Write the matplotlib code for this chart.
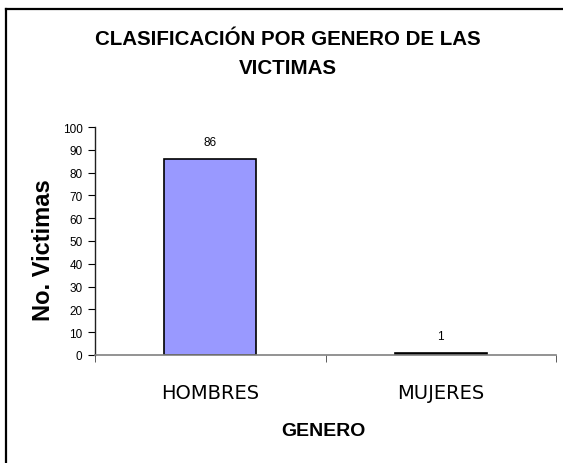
import matplotlib
matplotlib.use("Agg")
import matplotlib.pyplot as plt
from matplotlib.lines import Line2D

categories = ["HOMBRES", "MUJERES"]
values = [86, 1]
bar_colors = ["#9999FF", "#000000"]
yticks = [0, 10, 20, 30, 40, 50, 60, 70, 80, 90, 100]
title = "CLASIFICACIÓN POR GENERO DE LAS\nVICTIMAS"
xlabel = "GENERO"
ylabel = "No. Victimas"

W, H = 563, 464
fig = plt.figure(figsize=(W / 100, H / 100), dpi=100)
ax = fig.add_axes([95 / W, 1 - 356 / H, (556 - 95) / W, (356 - 128) / H])

x = list(range(len(categories)))
ax.bar(x, values, width=0.40, color=bar_colors, edgecolor="black", linewidth=1.2)
ax.set_xlim(-0.5, len(categories) - 0.5)
ax.set_ylim(0, 100)
ax.set_yticks(yticks)
ax.set_yticklabels([str(v) for v in yticks], fontsize=8.5, family="Liberation Sans")
ax.set_xticks(x)
ax.set_xticklabels(categories, fontsize=14, family="DejaVu Sans")
ax.set_xticks([i - 0.5 for i in range(len(categories) + 1)], minor=True)
ax.tick_params(axis="x", which="major", length=0, pad=20)
ax.tick_params(axis="x", which="minor", length=5, direction="out", color="#404040")
ax.tick_params(axis="y", length=5, direction="out", pad=4)

for s in ["top", "right"]:
    ax.spines[s].set_visible(False)
ax.spines["bottom"].set_color("#808080")
ax.spines["bottom"].set_linewidth(1.2)
ax.spines["left"].set_color("#202020")
ax.spines["left"].set_linewidth(1.0)

for xi, v in zip(x, values):
    ax.annotate(str(v), (xi, v), xytext=(0, 8), textcoords="offset points",
                ha="center", va="bottom", fontsize=8.5, family="Liberation Sans")

fig.text(288 / W, 1 - 54 / H, title, ha="center", va="center", fontsize=14.8,
         fontweight="bold", family="Liberation Sans", linespacing=1.65)
fig.text(323 / W, 1 - 432 / H, xlabel, ha="center", va="center", fontsize=14,
         fontweight="bold", family="Liberation Sans")
fig.text(44 / W, 1 - 250 / H, ylabel, ha="center", va="center", fontsize=17,
         fontweight="bold", family="Liberation Sans", rotation=90)

# outer chart frame (left and top edges visible)
fig.add_artist(Line2D([6 / W, 6 / W], [0, 1 - 10 / H], transform=fig.transFigure,
                      color="black", linewidth=1.6))
fig.add_artist(Line2D([6 / W, 1], [1 - 10 / H, 1 - 10 / H], transform=fig.transFigure,
                      color="black", linewidth=1.6))

fig.savefig("out.png", dpi=100)
